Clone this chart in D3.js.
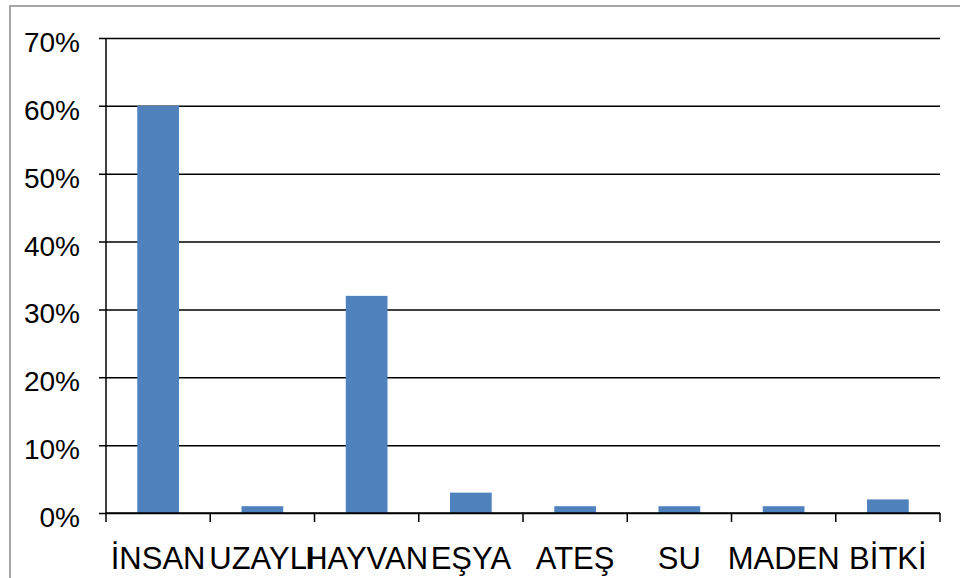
<!DOCTYPE html>
<html>
<head>
<meta charset="utf-8">
<script src="https://cdn.jsdelivr.net/npm/d3@7"></script>
<style>
  html, body { margin: 0; padding: 0; background: #fff; }
  svg { display: block; font-family: "Liberation Sans", Arial, sans-serif; }
</style>
</head>
<body>
<svg id="chart" width="960" height="578"></svg>
<script>
// data
const categories = ['İNSAN', 'UZAYLI', 'HAYVAN', 'EŞYA', 'ATEŞ', 'SU', 'MADEN', 'BİTKİ'];
const values = [0.60, 0.01, 0.32, 0.03, 0.01, 0.01, 0.01, 0.02];
const yTicks = [0, 0.1, 0.2, 0.3, 0.4, 0.5, 0.6, 0.7];

const width = 960;
const height = 578;
const margin = { top: 38, right: 20, bottom: 65, left: 106 };
const innerWidth = 940 - margin.left;
const innerHeight = 513 - margin.top;

const svg = d3.select('#chart');

// outer frame (only top and left edges show in the picture)
svg.append('rect')
  .attr('x', 10)
  .attr('y', 6)
  .attr('width', 960)
  .attr('height', 600)
  .attr('fill', 'none')
  .attr('stroke', '#a6a6a6')
  .attr('stroke-width', 2);

const g = svg.append('g')
  .attr('transform', `translate(${margin.left},${margin.top})`);

const x = d3.scaleBand()
  .domain(categories)
  .range([0, innerWidth])
  .paddingInner(0.6)
  .paddingOuter(0.3);

const y = d3.scaleLinear()
  .domain([0, 0.7])
  .range([innerHeight, 0]);

// gridlines + y axis
const yAxis = g.append('g')
  .call(d3.axisLeft(y)
    .tickValues(yTicks)
    .tickSize(-innerWidth)
    .tickPadding(26)
    .tickFormat(d3.format('.0%')));

yAxis.select('.domain').remove();
yAxis.selectAll('line')
  .attr('x1', -7)
  .attr('stroke', '#000')
  .attr('stroke-width', 1.5);
yAxis.selectAll('text')
  .attr('font-size', '28px')
  .attr('fill', '#000')
  .attr('dy', '0.48em');

// left axis line
g.append('line')
  .attr('x1', 0).attr('x2', 0)
  .attr('y1', 0).attr('y2', innerHeight)
  .attr('stroke', '#000')
  .attr('stroke-width', 1.5);

// bars
g.selectAll('rect.bar')
  .data(values)
  .enter()
  .append('rect')
  .attr('class', 'bar')
  .attr('x', (d, i) => x(categories[i]))
  .attr('y', d => y(d))
  .attr('width', x.bandwidth())
  .attr('height', d => innerHeight - y(d))
  .attr('fill', '#4f81bd');

// x axis with ticks on category boundaries
const step = innerWidth / categories.length;
const xg = g.append('g')
  .attr('transform', `translate(0,${innerHeight})`);

xg.append('line')
  .attr('x1', 0).attr('x2', innerWidth)
  .attr('stroke', '#000')
  .attr('stroke-width', 1.5);

xg.selectAll('line.tick')
  .data(d3.range(categories.length + 1))
  .enter()
  .append('line')
  .attr('class', 'tick')
  .attr('x1', i => i * step)
  .attr('x2', i => i * step)
  .attr('y1', 0)
  .attr('y2', 9)
  .attr('stroke', '#000')
  .attr('stroke-width', 1.5);

xg.selectAll('text')
  .data(categories)
  .enter()
  .append('text')
  .attr('x', d => x(d) + x.bandwidth() / 2)
  .attr('y', 56)
  .attr('text-anchor', 'middle')
  .attr('font-size', '31px')
  .attr('fill', '#000')
  .text(d => d);
</script>
</body>
</html>
